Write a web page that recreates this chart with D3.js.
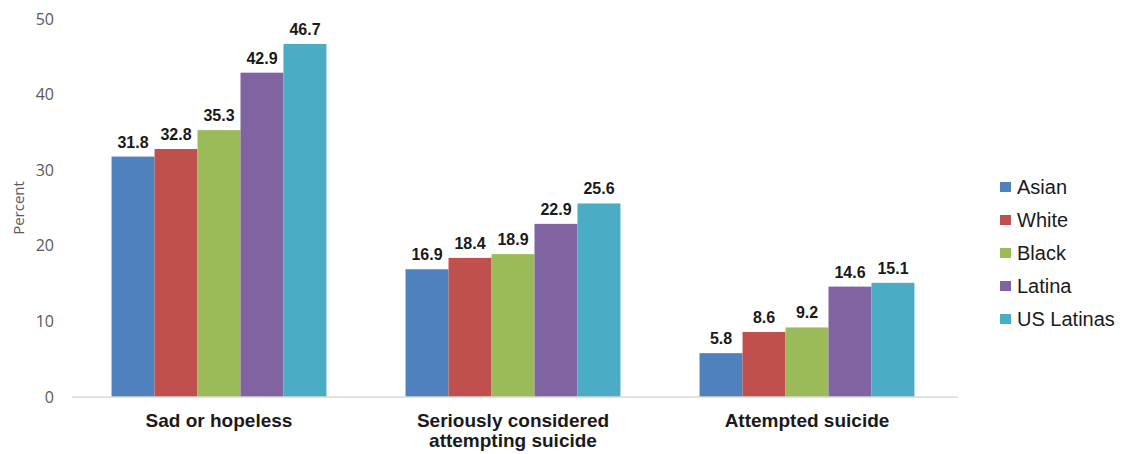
<!DOCTYPE html>
<html>
<head>
<meta charset="utf-8">
<script src="https://cdn.jsdelivr.net/npm/d3@7"></script>
<style>
  body { margin: 0; background: #fff; }
  svg { display: block; font-family: "Liberation Sans", Arial, sans-serif; }
</style>
</head>
<body>
<div id="chart"></div>
<script>
const categories = ["Sad or hopeless", "Seriously considered attempting suicide", "Attempted suicide"];
const categoryLines = [["Sad or hopeless"], ["Seriously considered", "attempting suicide"], ["Attempted suicide"]];
const groups = ["Asian", "White", "Black", "Latina", "US Latinas"];
const colors = ["#4F81BD", "#C0504D", "#9BBB59", "#8064A2", "#4BACC6"];
const asian = [31.8, 16.9, 5.8];
const white = [32.8, 18.4, 8.6];
const black = [35.3, 18.9, 9.2];
const latina = [42.9, 22.9, 14.6];
const usLatinas = [46.7, 25.6, 15.1];
const yTicks = [0, 10, 20, 30, 40, 50];

const series = [asian, white, black, latina, usLatinas];
const data = categories.map((c, i) => ({
  category: c,
  values: groups.map((g, j) => ({ group: g, value: series[j][i] }))
}));

const width = 1130, height = 454;
const margin = { top: 19, right: 176, bottom: 57, left: 72 };
const innerWidth = width - margin.left - margin.right;
const innerHeight = height - margin.top - margin.bottom;

const svg = d3.select("#chart").append("svg")
  .attr("width", width)
  .attr("height", height);

const g = svg.append("g")
  .attr("transform", `translate(${margin.left},${margin.top})`);

const x0 = d3.scaleBand()
  .domain(categories)
  .range([0, innerWidth])
  .padding(0);

const x1 = d3.scaleBand()
  .domain(groups)
  .range([0, x0.bandwidth()])
  .paddingInner(0)
  .paddingOuter(0.92);

const y = d3.scaleLinear()
  .domain([0, 50])
  .range([innerHeight, 0]);

const color = d3.scaleOrdinal().domain(groups).range(colors);

// y axis labels only, no line
const yAxis = g.append("g")
  .call(d3.axisLeft(y).tickValues(yTicks).tickSize(0).tickPadding(18));
yAxis.select(".domain").remove();
yAxis.selectAll("text")
  .attr("fill", "#595959")
  .style("font-size", "16px")
  .style("font-family", "'Open Sans', sans-serif");

g.append("text")
  .attr("transform", `translate(${-48},${y(25)}) rotate(-90)`)
  .attr("text-anchor", "middle")
  .attr("fill", "#595959")
  .style("font-size", "15px")
  .style("font-family", "'Open Sans', sans-serif")
  .text("Percent");

// bars
const cat = g.selectAll(".cat")
  .data(data)
  .enter().append("g")
  .attr("class", "cat")
  .attr("transform", d => `translate(${x0(d.category)},0)`);

cat.selectAll("rect")
  .data(d => d.values)
  .enter().append("rect")
  .attr("x", d => x1(d.group))
  .attr("y", d => y(d.value))
  .attr("width", x1.bandwidth())
  .attr("height", d => innerHeight - y(d.value))
  .attr("fill", d => color(d.group));

cat.selectAll(".val")
  .data(d => d.values)
  .enter().append("text")
  .attr("class", "val")
  .attr("x", d => x1(d.group) + x1.bandwidth() / 2)
  .attr("y", d => y(d.value) - 9)
  .attr("text-anchor", "middle")
  .attr("fill", "#1a1a1a")
  .style("font-size", "16px")
  .style("font-weight", "bold")
  .text(d => d.value.toFixed(1));

// x axis
const xAxis = g.append("g")
  .attr("transform", `translate(0,${innerHeight})`)
  .call(d3.axisBottom(x0).tickSize(0).tickFormat(""));
xAxis.select(".domain").attr("stroke", "#d9d9d9").attr("stroke-width", 1.5)
  .attr("d", `M0,0H${innerWidth + 4}`);

categories.forEach((c, i) => {
  const t = g.append("text")
    .attr("x", x0(c) + x0.bandwidth() / 2)
    .attr("y", innerHeight + 30)
    .attr("text-anchor", "middle")
    .attr("fill", "#1a1a1a")
    .style("font-size", "19px")
    .style("font-weight", "bold");
  categoryLines[i].forEach((line, k) => {
    t.append("tspan")
      .attr("x", x0(c) + x0.bandwidth() / 2)
      .attr("dy", k === 0 ? 0 : 20)
      .text(line);
  });
});

// legend
const legend = svg.append("g")
  .attr("transform", "translate(1000,187)");
const item = legend.selectAll(".item")
  .data(groups)
  .enter().append("g")
  .attr("class", "item")
  .attr("transform", (d, i) => `translate(0,${i * 33})`);
item.append("rect")
  .attr("x", 0)
  .attr("y", -5)
  .attr("width", 11)
  .attr("height", 10)
  .attr("fill", d => color(d));
item.append("text")
  .attr("x", 17)
  .attr("y", 7)
  .attr("fill", "#1a1a1a")
  .style("font-size", "20px")
  .text(d => d);
</script>
</body>
</html>
